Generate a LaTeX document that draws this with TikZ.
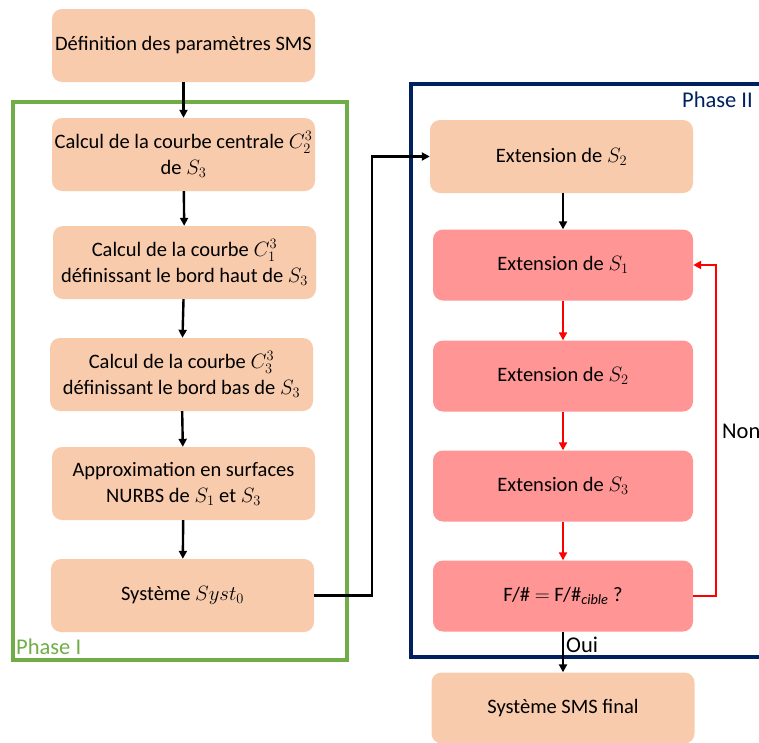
\documentclass[tikz,border=0pt]{standalone}
\usepackage{fontspec}
\setmainfont{Carlito}
\usetikzlibrary{arrows.meta}
\definecolor{peach}{HTML}{F8CBAD}
\definecolor{pink}{HTML}{FF9595}
\definecolor{pgreen}{HTML}{70AD47}
\definecolor{navy}{HTML}{002060}
\definecolor{ared}{HTML}{FF0000}
\tikzset{
  box/.style={rounded corners=10pt, minimum width=263pt, minimum height=73pt, align=center, font=\fontsize{20.5}{26}\selectfont, inner sep=2pt},
  pbox/.style={box, fill=peach},
  rbox/.style={box, fill=pink},
  arr/.style={-{Triangle[length=8pt,width=8pt]}, line width=2.4pt},
  rarr/.style={arr, color=ared},
  lbl/.style={font=\fontsize{22.5}{26}\selectfont, inner sep=0pt}
}
\begin{document}
\begin{tikzpicture}[x=1pt,y=-1pt]
\useasboundingbox (0,0) rectangle (759,742);
\clip (0,0) rectangle (759,742);
% frames
\draw[pgreen, line width=4.5pt] (13,102) rectangle (347,660);
\draw[navy, line width=4.5pt] (411,84) rectangle (790,657);
\node[lbl, text=pgreen, anchor=south west] (p1) at (16,655) {Phase I};
\node[lbl, text=navy, anchor=north east] (p2) at (753,92) {Phase II};
% left column
\node[pbox] (b0) at (183.5,45.5) {Définition des paramètres SMS};
\node[pbox] (b1) at (183.5,154.5) {Calcul de la courbe centrale $C_2^3$\\ de $S_3$};
\node[pbox] (b2) at (184.5,262.5) {Calcul de la courbe $C_1^3$\\ définissant le bord haut de $S_3$};
\node[pbox] (b3) at (181.5,374.5) {Calcul de la courbe $C_3^3$\\ définissant le bord bas de $S_3$};
\node[pbox] (b4) at (183.5,483.5) {Approximation en surfaces\\ NURBS de $S_1$ et $S_3$};
\node[pbox] (b5) at (182.5,595.5) {Système $Syst_0$};
% right column
\node[pbox] (r1) at (561.5,156.5) {Extension de $S_2$};
\node[rbox, minimum width=260pt, minimum height=71pt] (r2) at (563,265) {Extension de $S_1$};
\node[rbox, minimum width=260pt, minimum height=71pt] (r3) at (563,376) {Extension de $S_2$};
\node[rbox, minimum width=260pt, minimum height=71pt] (r4) at (563,486) {Extension de $S_3$};
\node[rbox, minimum width=260pt, minimum height=71pt] (r5) at (563,596) {F/\# $=$ F/\#$_{\mathit{cible}}$ ?};
\node[pbox, minimum height=71pt] (r6) at (563,708) {Système SMS final};
% arrows left
\draw[arr] (b0) -- (b1);
\draw[arr] (b1) -- (b2);
\draw[arr] (b2) -- (b3);
\draw[arr] (b3) -- (b4);
\draw[arr] (b4) -- (b5);
\coordinate (c1) at (372,595.5);
\coordinate (c2) at (372,156.5);
\draw[arr] (b5.east) -- (c1) -- (c2) -- (r1.west);
% arrows right
\draw[arr] (r1.south -| r2.north) -- (r2.north);
\draw[rarr] (r2) -- (r3);
\draw[rarr] (r3) -- (r4);
\draw[rarr] (r4) -- (r5);
\coordinate (d1) at (716,596);
\coordinate (d2) at (716,265);
\draw[rarr] (r5.east) -- (d1) -- (d2) -- (r2.east);
\node[lbl, anchor=west] (non) at (722,431) {Non};
\draw[arr] (r5.south) -- (r6.north);
\node[lbl, anchor=west] (oui) at (566,645) {Oui};
\end{tikzpicture}
\end{document}
